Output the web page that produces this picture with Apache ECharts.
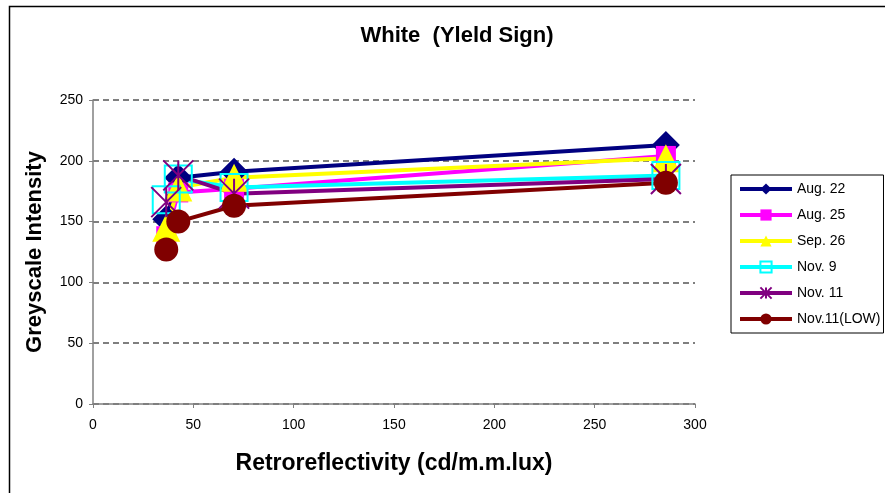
<!DOCTYPE html>
<html>
<head>
<meta charset="utf-8">
<script src="https://cdn.jsdelivr.net/npm/echarts@6/dist/echarts.min.js"></script>
<style>
html,body{margin:0;padding:0;background:#fff;}
#chart{width:885px;height:493px;}
</style>
</head>
<body>
<div id="chart"></div>
<script>
var xVals = [36.5, 42.5, 70.3, 285.5];
var seriesNames = ['Aug. 22', 'Aug. 25', 'Sep. 26', 'Nov. 9', 'Nov. 11', 'Nov.11(LOW)'];
var aug22 = [152, 186, 191, 213];
var aug25 = [138, 174, 177, 204];
var sep26 = [145, 178, 186, 202];
var nov9 = [168, 185, 178, 188];
var nov11 = [166, 188, 173, 185];
var nov11low = [127, 150, 163, 182];
var yTicks = [0, 50, 100, 150, 200, 250];
var xTicks = [0, 50, 100, 150, 200, 250, 300];

var FONT = "'Liberation Sans', Arial, sans-serif";
function pairs(ys){ return xVals.map(function(x,i){ return [x, ys[i]]; }); }

var starPath = 'path://M0,0L10,10M10,0L0,10M5,0L5,10';

var defs = [
  {data: aug22, color: '#000080', symbol: 'diamond', size: 28, fill: '#000080'},
  {data: aug25, color: '#FF00FF', symbol: 'rect', size: 20, fill: '#FF00FF'},
  {data: sep26, color: '#FFFF00', symbol: 'triangle', size: 28, fill: '#FFFF00'},
  {data: nov9, color: '#00FFFF', symbol: 'rect', size: 27, fill: 'rgba(0,0,0,0)', border: '#00FFFF', bw: 2},
  {data: nov11, color: '#800080', symbol: starPath, size: 30, fill: 'rgba(0,0,0,0)', border: '#800080', bw: 2},
  {data: nov11low, color: '#800000', symbol: 'circle', size: 24, fill: '#800000'}
];

var series = defs.map(function(d, i){
  var it = {color: d.fill};
  if (d.border) { it.borderColor = d.border; it.borderWidth = d.bw; }
  return {
    name: seriesNames[i],
    type: 'line',
    data: pairs(d.data),
    symbol: d.symbol,
    symbolSize: d.size,
    showAllSymbol: true,
    lineStyle: {color: d.color, width: 4},
    itemStyle: it,
    emphasis: {disabled: true},
    animation: false
  };
});

var chart = echarts.init(document.getElementById('chart'), null, {renderer: 'canvas'});
chart.setOption({
  backgroundColor: '#fff',
  animation: false,
  title: {
    text: 'White  (Yleld Sign)',
    left: 452, top: 20, textAlign: 'center',
    textStyle: {fontFamily: FONT, fontSize: 22, fontWeight: 'bold', color: '#000'}
  },
  grid: {left: 93, right: 190, top: 100, bottom: 89, containLabel: false},
  legend: {
    orient: 'vertical', left: 731, top: 175,
    itemWidth: 52, itemHeight: 14, itemGap: 12,
    padding: [7, 3, 7, 7],
    borderColor: '#000', borderWidth: 1,
    lineStyle: {width: 4},
    textStyle: {fontFamily: FONT, fontSize: 14, color: '#000'},
    data: seriesNames
  },
  xAxis: {
    type: 'value', min: 0, max: 300, interval: 50,
    name: 'Retroreflectivity (cd/m.m.lux)', nameLocation: 'middle', nameGap: 48,
    nameTextStyle: {fontFamily: FONT, fontSize: 23, fontWeight: 'bold', color: '#000'},
    axisLine: {show: true, lineStyle: {color: '#808080', width: 1.5}},
    axisTick: {show: true, inside: false, length: 4, lineStyle: {color: '#808080'}},
    axisLabel: {fontFamily: FONT, fontSize: 14, color: '#000', margin: 14},
    splitLine: {show: false}
  },
  yAxis: {
    type: 'value', min: 0, max: 250, interval: 50,
    name: 'Greyscale Intensity', nameLocation: 'middle', nameGap: 47, nameRotate: 90,
    nameTextStyle: {fontFamily: FONT, fontSize: 22, fontWeight: 'bold', color: '#000'},
    axisLine: {show: true, lineStyle: {color: '#808080', width: 1.5}},
    axisTick: {show: true, inside: false, length: 4, lineStyle: {color: '#808080'}},
    axisLabel: {fontFamily: FONT, fontSize: 14, color: '#000', margin: 10},
    splitLine: {show: true, lineStyle: {color: '#555', width: 1.5, type: [6, 4]}}
  },
  graphic: [{
    type: 'rect', left: 7, top: 4, silent: true,
    shape: {width: 900, height: 600},
    style: {fill: 'none', stroke: '#000', lineWidth: 1.5}
  }],
  series: series
});
</script>
</body>
</html>
